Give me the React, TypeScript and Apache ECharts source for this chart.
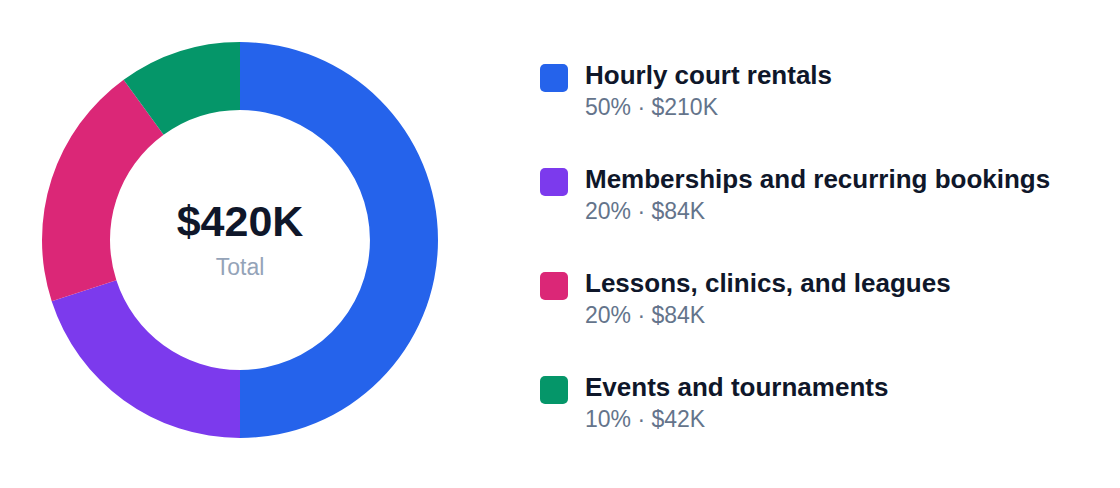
import React, { useEffect, useRef } from 'react';
import * as echarts from 'echarts';

// revenue split (thousands of dollars)
const categories = [
  'Hourly court rentals',
  'Memberships and recurring bookings',
  'Lessons, clinics, and leagues',
  'Events and tournaments',
];
const revenueK = [210, 84, 84, 42];
const colors = ['#2563eb', '#7c3aed', '#db2777', '#059669'];

const FONT = "'Liberation Sans', Arial, Helvetica, sans-serif";

const App: React.FC = () => {
  const chartRef = useRef<HTMLDivElement | null>(null);

  useEffect(() => {
    document.body.style.margin = '0';
    const chart = echarts.init(chartRef.current!, undefined, { renderer: 'svg' });

    const total = revenueK.reduce((a, b) => a + b, 0);

    // legend on the right, one block per category
    const legendItems: any[] = [];
    categories.forEach((name, i) => {
      const pct = Math.round((revenueK[i] / total) * 100);
      const y0 = 104 * i;
      legendItems.push(
        {
          type: 'rect',
          shape: { x: 540, y: 64 + y0, width: 28, height: 28, r: 5 },
          style: { fill: colors[i] },
        },
        {
          type: 'text',
          x: 585,
          y: 75 + y0,
          style: {
            text: name,
            fontFamily: FONT,
            fontSize: 26,
            fontWeight: 'bold',
            fill: '#0f172a',
            verticalAlign: 'middle',
          },
        },
        {
          type: 'text',
          x: 585,
          y: 107 + y0,
          style: {
            text: `${pct}% · $${revenueK[i]}K`,
            fontFamily: FONT,
            fontSize: 23,
            fill: '#64748b',
            verticalAlign: 'middle',
          },
        }
      );
    });

    chart.setOption({
      animation: false,
      series: [
        {
          type: 'pie',
          center: [240, 240],
          radius: [130, 198],
          startAngle: 90,
          clockwise: true,
          label: { show: false },
          labelLine: { show: false },
          emphasis: { disabled: true },
          itemStyle: { borderWidth: 0 },
          data: categories.map((name, i) => ({
            name,
            value: revenueK[i],
            itemStyle: { color: colors[i] },
          })),
        },
      ],
      graphic: [
        {
          type: 'text',
          x: 240,
          y: 221,
          style: {
            text: `$${total}K`,
            fontFamily: FONT,
            fontSize: 43,
            fontWeight: 'bold',
            fill: '#0f172a',
            align: 'center',
            verticalAlign: 'middle',
          },
        },
        {
          type: 'text',
          x: 240,
          y: 267,
          style: {
            text: 'Total',
            fontFamily: FONT,
            fontSize: 23,
            fill: '#94a3b8',
            align: 'center',
            verticalAlign: 'middle',
          },
        },
        ...legendItems,
      ],
    });

    return () => {
      chart.dispose();
    };
  }, []);

  return <div ref={chartRef} style={{ width: '1120px', height: '488px' }} />;
};

export default App;
